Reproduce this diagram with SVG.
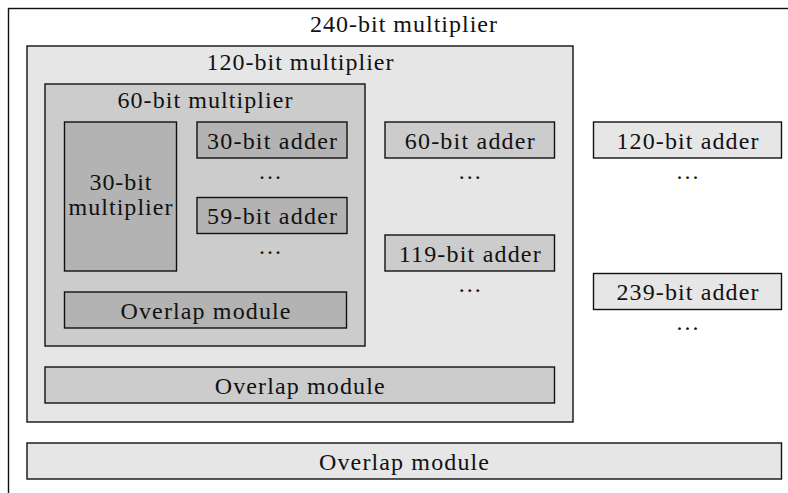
<svg xmlns="http://www.w3.org/2000/svg" width="788" height="493" viewBox="0 0 788 493" font-family="Liberation Serif, serif" font-size="24">
<style>
.b{stroke:#111;stroke-width:1.4}
.g10{fill:#e6e6e6}
.g20{fill:#cccccc}
.g30{fill:#b3b3b3}
.t{fill:#111;text-anchor:middle}
</style>
<rect width="788" height="493" fill="#fff"/>
<g id="m240">
<rect class="b" x="8.5" y="8.5" width="790" height="500" fill="#fff"/>
<text class="t" x="403.5" y="32" textLength="187" lengthAdjust="spacing">240-bit multiplier</text>
</g>
<g id="m120">
<rect class="b g10" x="27" y="46" width="546" height="376"/>
<text class="t" x="300" y="70" textLength="187" lengthAdjust="spacing">120-bit multiplier</text>
</g>
<g id="m60">
<rect class="b g20" x="45" y="84" width="320" height="262"/>
<text class="t" x="205" y="107.5" textLength="175" lengthAdjust="spacing">60-bit multiplier</text>
</g>
<g id="m30">
<rect class="b g30" x="64.5" y="122" width="112" height="149"/>
<text class="t" x="120.5" y="190" textLength="62" lengthAdjust="spacing">30-bit</text>
<text class="t" x="120.5" y="215" textLength="104" lengthAdjust="spacing">multiplier</text>
</g>
<g id="a30">
<rect class="b g30" x="197" y="122" width="150" height="36"/>
<text class="t" x="272" y="148.5" textLength="130" lengthAdjust="spacing">30-bit adder</text>
</g>
<g id="dots1"><text class="t" x="270" y="179" textLength="22" lengthAdjust="spacing">. . .</text></g>
<g id="a59">
<rect class="b g30" x="197" y="197.5" width="150" height="36"/>
<text class="t" x="272" y="224" textLength="130" lengthAdjust="spacing">59-bit adder</text>
</g>
<g id="dots2"><text class="t" x="270" y="254" textLength="22" lengthAdjust="spacing">. . .</text></g>
<g id="ov60">
<rect class="b g30" x="64.5" y="292" width="282" height="36"/>
<text class="t" x="205.5" y="318.5" textLength="170" lengthAdjust="spacing">Overlap module</text>
</g>
<g id="a60">
<rect class="b g20" x="385" y="122" width="169.5" height="36"/>
<text class="t" x="469.7" y="148.5" textLength="130" lengthAdjust="spacing">60-bit adder</text>
</g>
<g id="dots3"><text class="t" x="469.7" y="179" textLength="22" lengthAdjust="spacing">. . .</text></g>
<g id="a119">
<rect class="b g20" x="385" y="235" width="169.5" height="36"/>
<text class="t" x="469.7" y="261.5" textLength="142" lengthAdjust="spacing">119-bit adder</text>
</g>
<g id="dots4"><text class="t" x="469.7" y="292" textLength="22" lengthAdjust="spacing">. . .</text></g>
<g id="ov120">
<rect class="b g20" x="45" y="367" width="509.5" height="36"/>
<text class="t" x="299.7" y="393.5" textLength="170" lengthAdjust="spacing">Overlap module</text>
</g>
<g id="a120">
<rect class="b g10" x="593.5" y="122" width="188" height="36"/>
<text class="t" x="687.5" y="148.5" textLength="142" lengthAdjust="spacing">120-bit adder</text>
</g>
<g id="dots5"><text class="t" x="687.5" y="179" textLength="22" lengthAdjust="spacing">. . .</text></g>
<g id="a239">
<rect class="b g10" x="593.5" y="273.5" width="188" height="36"/>
<text class="t" x="687.5" y="300" textLength="142" lengthAdjust="spacing">239-bit adder</text>
</g>
<g id="dots6"><text class="t" x="687.5" y="330" textLength="22" lengthAdjust="spacing">. . .</text></g>
<g id="ov240">
<rect class="b g10" x="27" y="443" width="754.5" height="36"/>
<text class="t" x="404" y="469.5" textLength="170" lengthAdjust="spacing">Overlap module</text>
</g>
<g id="connectors"/>
</svg>
